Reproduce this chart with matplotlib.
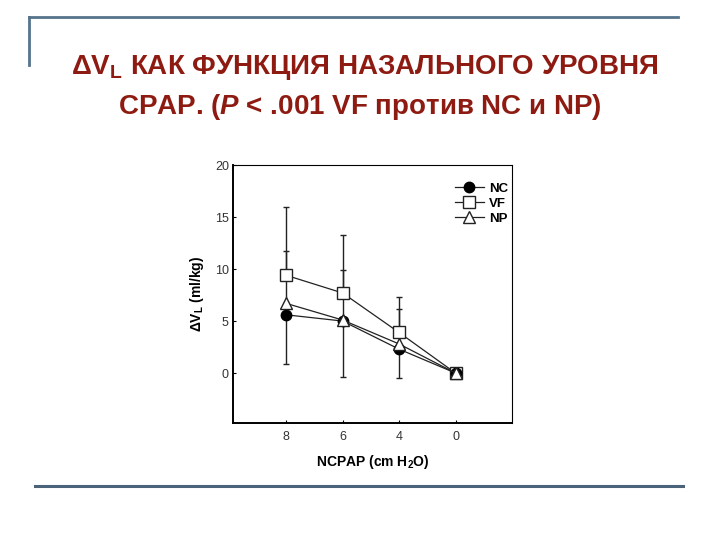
import numpy as np
import matplotlib
matplotlib.use('Agg')
import matplotlib.pyplot as plt
from matplotlib.lines import Line2D

# данные
pressures = ['8', '6', '4', '0']
nc = [5.6, 5.0, 2.3, 0.0]
vf = [9.4, 7.7, 3.9, 0.0]
np_ = [6.7, 5.1, 2.8, 0.0]
# концы усов (односторонние)
vf_top = [16.0, 13.3, 7.3, 0.0]
np_top = [11.7, 9.9, 6.2, 0.0]
nc_bottom = [0.9, -0.4, -0.5, 0.0]

plt.rcParams['font.family'] = ['Liberation Sans', 'DejaVu Sans']
plt.rcParams['mathtext.fontset'] = 'custom'
plt.rcParams['mathtext.rm'] = 'Liberation Sans'
plt.rcParams['mathtext.bf'] = 'Liberation Sans:bold'
plt.rcParams['mathtext.it'] = 'Liberation Sans:italic:bold'

fig = plt.figure(figsize=(7.2, 5.4), dpi=100)
ax = fig.add_axes([233/720, 1-423/540, (512-233)/720, (423-165)/540])

x = np.arange(len(pressures))
vf_err = [np.zeros(4), np.array(vf_top) - np.array(vf)]
np_err = [np.zeros(4), np.array(np_top) - np.array(np_)]
nc_err = [np.array(nc) - np.array(nc_bottom), np.zeros(4)]

ax.errorbar(x, vf, yerr=vf_err, fmt='none', ecolor='#222222', elinewidth=1.0, capsize=2)
ax.errorbar(x, np_, yerr=np_err, fmt='none', ecolor='#222222', elinewidth=1.0, capsize=2)
ax.errorbar(x, nc, yerr=nc_err, fmt='none', ecolor='#222222', elinewidth=1.0, capsize=2)

ax.plot(x, nc, color='#222222', lw=0.9, marker='o', ms=7.5, mfc='black', mec='black', label='NC', zorder=5)
ax.plot(x, vf, color='#222222', lw=0.9, marker='s', ms=8.5, mfc='white', mec='#222222', label='VF', zorder=4)
ax.plot(x, np_, color='#222222', lw=0.9, marker='^', ms=8.5, mfc='white', mec='#222222', label='NP', zorder=6)

ax.set_xlim(-0.94, 4.0)
ax.set_ylim(-4.8, 20)
ax.set_xticks(x)
ax.set_xticklabels(pressures)
ax.set_yticks([0, 5, 10, 15, 20])
ax.tick_params(direction='in', length=2, labelsize=9, labelcolor='#333333', pad=3)
ax.tick_params(axis='x', pad=6)
for s in ['left', 'bottom']:
    ax.spines[s].set_linewidth(1.4)
for s in ['top', 'right']:
    ax.spines[s].set_linewidth(0.8)

ax.set_ylabel(r'ΔV$_\mathbf{L}$ (ml/kg)', fontsize=10, fontweight='bold', labelpad=6)
ax.set_xlabel(r'NCPAP (cm H$_\mathbf{2}$O)', fontsize=10, fontweight='bold', labelpad=7)

ax.legend(loc='upper left', bbox_to_anchor=(448/720, 1-176/540), bbox_transform=fig.transFigure,
          frameon=False, prop={'weight': 'bold', 'size': 9.5},
          handlelength=2.2, labelspacing=0.2, handletextpad=0.4, borderpad=0)

# заголовок слайда
red = '#8e1b12'
fig.text(0.507, 1-68/540, r'ΔV$_\mathbf{L}$ КАК ФУНКЦИЯ НАЗАЛЬНОГО УРОВНЯ', ha='center', va='center',
         fontsize=20, fontweight='bold', color=red)
fig.text(0.5, 1-107/540, r'CPAP. ($\mathit{P}$ < .001 VF против NC и NP)', ha='center', va='center',
         fontsize=20, fontweight='bold', color=red)

# рамочные линии
lc = '#56738c'
fig.add_artist(Line2D([29/720, 678/720], [1-17/540, 1-17/540], color=lc, lw=2, transform=fig.transFigure))
fig.add_artist(Line2D([29/720, 29/720], [1-17/540, 1-65/540], color=lc, lw=2, transform=fig.transFigure))
fig.add_artist(Line2D([35/720, 683/720], [1-486/540, 1-486/540], color='#4a6378', lw=2.2, transform=fig.transFigure))

fig.savefig('out.png', dpi=100)
